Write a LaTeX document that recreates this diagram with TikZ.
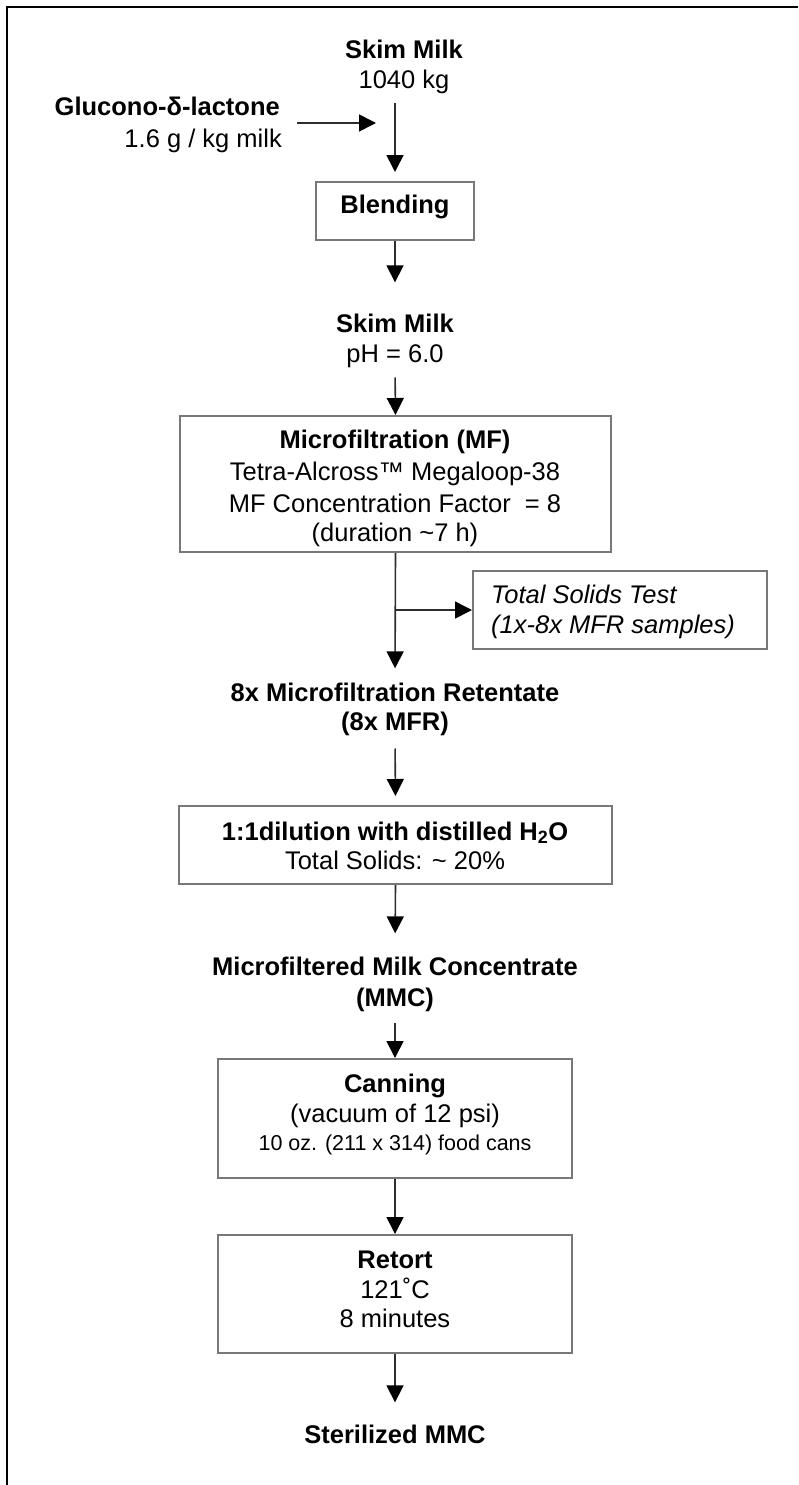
\documentclass[tikz,border=0pt]{standalone}
\usepackage{fontspec}
\setmainfont{Liberation Sans}
\usetikzlibrary{arrows.meta}
\definecolor{boxgray}{RGB}{120,120,120}
\definecolor{linegray}{RGB}{45,45,45}
\begin{document}
\begin{tikzpicture}[x=1pt,y=-1pt,
  every node/.style={inner sep=0pt, text=black},
  hr/.style={anchor=base, font=\fontsize{25.5}{30}\selectfont},
  hb/.style={anchor=base, font=\fontsize{25.5}{30}\selectfont\bfseries},
  hi/.style={anchor=base west, font=\fontsize{25.5}{30}\selectfont\itshape},
  hs/.style={anchor=base, font=\fontsize{21.5}{26}\selectfont},
  procbox/.style={draw=boxgray, line width=2pt, rectangle},
  conn/.style={draw=linegray, line width=1.6pt, -{Triangle[length=17pt,width=17pt,color=black]}},
  frameline/.style={draw=black, line width=2.5pt}
  ]
\useasboundingbox (0,0) rectangle (798,1485);
% frame (top and left only)
\draw[frameline] (798,7) -- (7,7) -- (7,1485);

% top inputs
\node[hb] (sm1) at (404,59) {Skim Milk};
\node[hr] (sm1q) at (404,89) {1040 kg};
\node[hb, anchor=base east] (gdl) at (280,116) {Glucono-δ-lactone};
\node[hr, anchor=base east] (gdlq) at (282,147) {1.6 g / kg milk};
\coordinate (gdlarr) at (297,123);
\coordinate (mixpt) at (376,123);
\coordinate (sm1out) at (395,103);

% blending
\node[procbox, minimum width=158pt, minimum height=58pt] (blend) at (395,211) {};
\node[hb] (blendt) at (395,213) {Blending};

% skim milk pH
\node[hb] (sm2) at (395,332) {Skim Milk};
\node[hr] (ph) at (395,362) {pH = 6.0};

% microfiltration
\node[procbox, minimum width=431pt, minimum height=136pt] (mf) at (395.5,484) {};
\node[hb] (mf1) at (395,448) {Microfiltration (MF)};
\node[hr] (mf2) at (395,480) {Tetra-Alcross™ Megaloop-38};
\node[hr] (mf3) at (395,512) {MF Concentration Factor~ = 8};
\node[hr] (mf4) at (395,541) {(duration \textasciitilde7 h)};

% total solids test
\coordinate (br) at (395,610);
\node[procbox, minimum width=294pt, minimum height=78pt] (ts) at (620,610) {};
\node[hi] (ts1) at (491,603) {Total Solids Test};
\node[hi] (ts2) at (491,633) {(1x-8x MFR samples)};

% 8x MFR
\node[hb] (r8a) at (395,701) {8x Microfiltration Retentate};
\node[hb] (r8b) at (395,730) {(8x MFR)};

% dilution
\node[procbox, minimum width=433pt, minimum height=78pt] (dil) at (395.5,845) {};
\node[hb] (dil1) at (395,840) {1:1dilution with distilled H\textsubscript{2}O};
\node[hr] (dil2) at (395,869) {Total Solids: \textasciitilde\ 20\%};

% MMC
\node[hb] (mmca) at (395,975) {Microfiltered Milk Concentrate};
\node[hb] (mmcb) at (395,1006) {(MMC)};

% canning
\node[procbox, minimum width=354pt, minimum height=119pt] (can) at (395,1118.5) {};
\node[hb] (can1) at (395,1092) {Canning};
\node[hr] (can2) at (395,1122) {(vacuum of 12 psi)};
\node[hs] (can3) at (395,1150) {10 oz. (211 x 314) food cans};

% retort
\node[procbox, minimum width=354pt, minimum height=118pt] (ret) at (395,1294) {};
\node[hb] (ret1) at (395,1268) {Retort};
\node[hr] (ret2) at (395,1298) {121˚C};
\node[hr] (ret3) at (395,1327) {8 minutes};

% sterilized
\node[hb] (ster) at (395,1443) {Sterilized MMC};

% connectors
\draw[conn] (gdlarr) -- (mixpt);
\draw[conn, shorten >=9pt] (sm1out) -- (blend.north);
\draw[conn, shorten >=31pt] (blend.south) -- (sm2.north);
\draw[conn, shorten <=10pt] (ph.south) -- (mf.north);
\draw[conn, shorten >=14pt] (mf.south) -- (r8a.north);
\draw[conn] (br) -- (ts.west);
\draw[conn, shorten <=13pt, shorten >=9pt] (r8b.south) -- (dil.north);
\draw[conn, shorten >=23pt] (dil.south) -- (mmca.north);
\draw[conn, shorten <=11pt] (mmcb.south) -- (can.north);
\draw[conn] (can.south) -- (ret.north);
\draw[conn, shorten >=22pt] (ret.south) -- (ster.north);
\end{tikzpicture}
\end{document}
